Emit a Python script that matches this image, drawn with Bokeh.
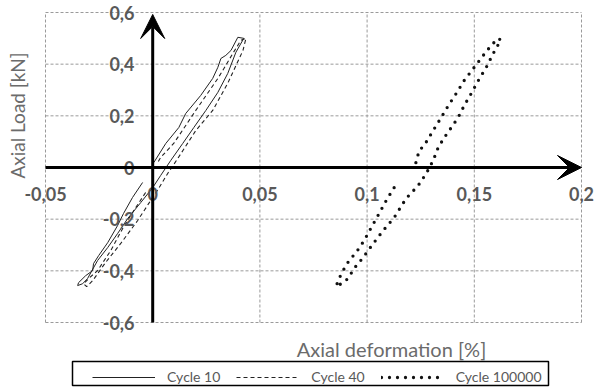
from bokeh.plotting import figure
from bokeh.models import Range1d, Arrow, VeeHead, Legend, LegendItem
from bokeh.core.properties import value
from bokeh.embed import file_html
from bokeh.resources import INLINE

# ---------------- data ----------------
x_ticks = [-0.05, 0, 0.05, 0.1, 0.15, 0.2]
x_tick_labels = ["-0,05", "0", "0,05", "0,1", "0,15", "0,2"]
y_ticks = [-0.6, -0.4, -0.2, 0, 0.2, 0.4, 0.6]
y_tick_labels = ["-0,6", "-0,4", "-0,2", "0", "0,2", "0,4", "0,6"]

cycle10_def = [-0.0047, -0.0094, -0.0136, -0.0164, -0.0210, -0.0252, -0.0276, -0.0280, -0.0313, -0.0346, -0.0350,
               -0.0327, -0.0304, -0.0257, -0.0210, -0.0164, -0.0117, -0.0056, 0.0000, 0.0037, 0.0084, 0.0140,
               0.0192, 0.0248, 0.0304, 0.0350, 0.0388, 0.0425,
               0.0397, 0.0365, 0.0341, 0.0318, 0.0304, 0.0280, 0.0224, 0.0154, 0.0122, 0.0061, 0.0005]
cycle10_load = [-0.058, -0.116, -0.178, -0.225, -0.291, -0.341, -0.372, -0.399, -0.419, -0.446, -0.457,
                -0.450, -0.430, -0.360, -0.310, -0.256, -0.198, -0.136, -0.078, -0.031, 0.027, 0.093,
                0.155, 0.221, 0.291, 0.364, 0.446, 0.500,
                0.504, 0.453, 0.434, 0.422, 0.388, 0.345, 0.279, 0.209, 0.155, 0.093, 0.019]

cycle40_def = [-0.0033, -0.0079, -0.0140, -0.0196, -0.0257, -0.0299, -0.0322,
               -0.0308, -0.0280, -0.0220, -0.0150, -0.0070, -0.0019, 0.0028, 0.0070, 0.0117,
               0.0201, 0.0280, 0.0350, 0.0421, 0.0435,
               0.0411, 0.0374, 0.0327, 0.0304, 0.0201, 0.0098, 0.0037, 0.0023]
cycle40_load = [-0.097, -0.155, -0.236, -0.322, -0.399, -0.430, -0.450,
                -0.461, -0.438, -0.368, -0.295, -0.205, -0.140, -0.081, -0.023, 0.035,
                0.143, 0.221, 0.326, 0.453, 0.500,
                0.492, 0.442, 0.376, 0.345, 0.221, 0.093, 0.039, 0.019]

cycle100000_def = [0.1126, 0.1089, 0.1056, 0.1019, 0.0986, 0.0949, 0.0916, 0.0888, 0.0869, 0.0855,
                   0.0879, 0.0911, 0.0939, 0.0981, 0.1028, 0.1075, 0.1126, 0.1182, 0.1238, 0.1276,
                   0.1308, 0.1332, 0.1360, 0.1393, 0.1425, 0.1453, 0.1486, 0.1519, 0.1556, 0.1579,
                   0.1603, 0.1626,
                   0.1612, 0.1579, 0.1542, 0.1500, 0.1453, 0.1416, 0.1379, 0.1346, 0.1308, 0.1266,
                   0.1243, 0.1224]
cycle100000_load = [-0.078, -0.128, -0.178, -0.233, -0.283, -0.329, -0.360, -0.399, -0.430, -0.461,
                    -0.450, -0.430, -0.391, -0.349, -0.295, -0.244, -0.194, -0.120, -0.070, -0.023,
                    0.027, 0.078, 0.116, 0.155, 0.194, 0.240, 0.287, 0.337, 0.388, 0.426,
                    0.465, 0.492,
                    0.500, 0.473, 0.434, 0.388, 0.337, 0.287, 0.240, 0.194, 0.143, 0.085,
                    0.066, 0.008]

series_names = ["Cycle 10", "Cycle 40", "Cycle 100000"]
x_title = "Axial deformation [%]"
y_title = "Axial Load [kN]"

# ---------------- geometry ----------------
X0, X1, Y0, Y1 = -0.05, 0.2, -0.6, 0.6          # plotted data window
W, H = 595, 387
BL, BR, BT, BB = 45, 14, 12, 65                  # margins around the data window (px)
ppx = (W - BL - BR) / (X1 - X0)
ppy = (H - BT - BB) / (Y1 - Y0)


def dx(px):  # canvas pixel -> data x
    return X0 + (px - BL) / ppx


def dy(py):  # canvas pixel -> data y
    return Y1 - (py - BT) / ppy


# the frame covers the whole canvas so that outside texts are not clipped
p = figure(width=W, height=H, x_range=Range1d(dx(0), dx(W)), y_range=Range1d(dy(H), dy(0)),
           x_axis_type=None, y_axis_type=None, output_backend="svg", toolbar_location=None,
           min_border=0)
p.outline_line_color = None
p.grid.visible = False

grid_kw = dict(line_color="#9a9a9a", line_dash="3 2", line_width=1)
p.segment(x0=x_ticks, y0=[Y0] * len(x_ticks), x1=x_ticks, y1=[Y1] * len(x_ticks), **grid_kw)
p.segment(x0=[X0] * len(y_ticks), y0=y_ticks, x1=[X1] * len(y_ticks), y1=y_ticks, **grid_kw)

# axes through the origin with arrowheads
p.add_layout(Arrow(end=VeeHead(size=24, fill_color="black", line_color="black"),
                   x_start=X0, y_start=0, x_end=X1, y_end=0, line_width=3, line_color="black"))
p.add_layout(Arrow(end=VeeHead(size=24, fill_color="black", line_color="black"),
                   x_start=0, y_start=Y0, x_end=0, y_end=dy(14), line_width=3, line_color="black"))

r10 = p.line(cycle10_def, cycle10_load, line_color="#222222", line_width=1)
r40 = p.line(cycle40_def, cycle40_load, line_color="#222222", line_width=1.1, line_dash="4 3")
r100k = p.line(cycle100000_def, cycle100000_load, line_color="#111111", line_width=3.3,
               line_dash="0 8", line_cap="round")

font = value("Lato")
p.text(x=x_ticks, y=[dy(193)] * len(x_ticks), text=x_tick_labels, text_align="center",
       text_baseline="middle", text_font=font, text_font_style="bold", text_font_size="18px",
       text_color="#595959")
p.text(x=[dx(134)] * len(y_ticks), y=y_ticks, text=y_tick_labels, text_align="right",
       text_baseline="middle", text_font=font, text_font_style="bold", text_font_size="18px",
       text_color="#595959")

p.text(x=[dx(391)], y=[dy(348)], text=[x_title], text_align="center", text_baseline="middle",
       text_font=font, text_font_size="20px", text_color="#6b6b6b")
p.text(x=[dx(17)], y=[dy(115)], text=[y_title], angle=1.5708, text_align="center",
       text_baseline="middle", text_font=font, text_font_size="19px", text_color="#6b6b6b")

# legend frame and legend
p.quad(left=[dx(72)], right=[dx(548)], top=[dy(361)], bottom=[dy(385)],
       fill_alpha=0, line_color="black", line_width=1.5)
legend = Legend(items=[LegendItem(label=series_names[0], renderers=[r10]),
                       LegendItem(label=series_names[1], renderers=[r40]),
                       LegendItem(label=series_names[2], renderers=[r100k])],
                orientation="horizontal", location=(92, H - 385),
                glyph_width=63, glyph_height=12, label_standoff=12, spacing=16, padding=4,
                border_line_color=None, background_fill_alpha=0,
                label_text_font="Lato", label_text_font_size="14px", label_text_color="#595959")
p.add_layout(legend)

open("out.html", "w").write(file_html(p, INLINE))
